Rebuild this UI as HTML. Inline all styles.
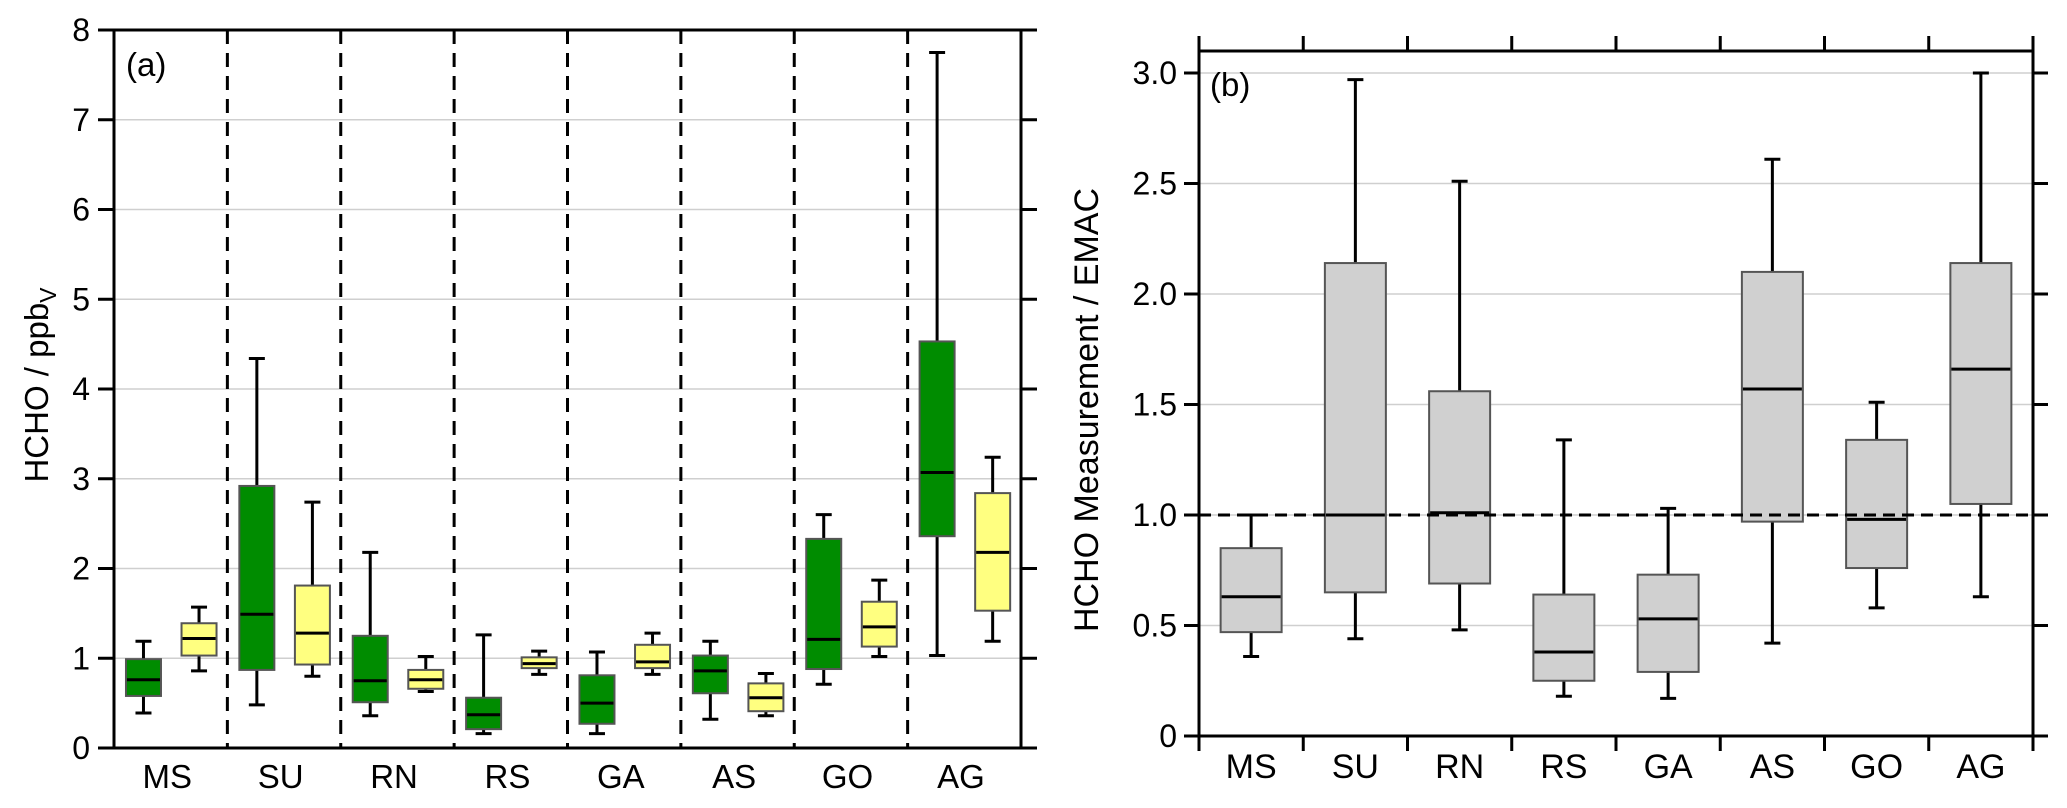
<!DOCTYPE html>
<html><head><meta charset="utf-8"><style>
html,body{margin:0;padding:0;background:#fff}
svg{display:block;font-family:"Liberation Sans",Arial,sans-serif}
</style></head><body>
<svg id="chart" width="2067" height="808" viewBox="0 0 2067 808" xmlns="http://www.w3.org/2000/svg">
<g id="pa"></g>
<g id="pb"></g>
</svg>
<script>
const categories = ["MS","SU","RN","RS","GA","AS","GO","AG"];
// panel a: [low whisker, q1, median, q3, high whisker]
const greenLow = [0.39,0.48,0.36,0.16,0.16,0.32,0.71,1.03];
const greenQ1  = [0.58,0.87,0.51,0.21,0.27,0.61,0.88,2.36];
const greenMed = [0.76,1.49,0.75,0.37,0.50,0.86,1.21,3.07];
const greenQ3  = [0.99,2.92,1.25,0.56,0.81,1.03,2.33,4.53];
const greenHigh= [1.19,4.34,2.18,1.26,1.07,1.19,2.60,7.75];
const yellowLow = [0.86,0.80,0.63,0.82,0.82,0.36,1.02,1.19];
const yellowQ1  = [1.03,0.93,0.66,0.89,0.89,0.41,1.13,1.53];
const yellowMed = [1.22,1.28,0.76,0.94,0.96,0.56,1.35,2.18];
const yellowQ3  = [1.39,1.81,0.87,1.01,1.15,0.72,1.63,2.84];
const yellowHigh= [1.57,2.74,1.02,1.08,1.28,0.83,1.87,3.24];
const aTicks = [0,1,2,3,4,5,6,7,8];
// panel b ratios
const ratioLow = [0.36,0.44,0.48,0.18,0.17,0.42,0.58,0.63];
const ratioQ1  = [0.47,0.65,0.69,0.25,0.29,0.97,0.76,1.05];
const ratioMed = [0.63,1.00,1.01,0.38,0.53,1.57,0.98,1.66];
const ratioQ3  = [0.85,2.14,1.56,0.64,0.73,2.10,1.34,2.14];
const ratioHigh= [1.00,2.97,2.51,1.34,1.03,2.61,1.51,3.00];
const bTicks = [0,0.5,1.0,1.5,2.0,2.5,3.0];
const bTickLabels = ["0","0.5","1.0","1.5","2.0","2.5","3.0"];
const refLine = 1.0;

const NS="http://www.w3.org/2000/svg";
function mk(parent,tag,attrs,text){const e=document.createElementNS(NS,tag);for(const k in attrs)e.setAttribute(k,attrs[k]);if(text!==undefined)e.textContent=text;parent.appendChild(e);return e;}

// Panel A geometry
const A={x0:114,x1:1021,y0:748,y1:30,max:8};
const ay=v=>A.y0-(v/A.max)*(A.y0-A.y1);
const aw=(A.x1-A.x0)/categories.length;
const ax=(i,f)=>A.x0+aw*(i+f);
const pa=document.getElementById('pa');
aTicks.forEach(t=>{
  if(t>0&&t<8){const g=mk(pa,'line',{x1:A.x0,x2:A.x1,y1:ay(t),y2:ay(t),stroke:'#cfcfcf','stroke-width':1.5});
  }
  const tk=mk(pa,'line',{x1:A.x0-16,x2:A.x0,y1:ay(t),y2:ay(t),stroke:'#000','stroke-width':3});
  
  const tr=mk(pa,'line',{x1:A.x1,x2:A.x1+16,y1:ay(t),y2:ay(t),stroke:'#000','stroke-width':3});
  
  const lb=mk(pa,'text',{x:A.x0-24,y:ay(t)+11,'text-anchor':'end','font-size':32},String(t));
  
});
for(let i=1;i<categories.length;i++){
  const d=mk(pa,'line',{x1:ax(i,0),x2:ax(i,0),y1:A.y1,y2:A.y0,stroke:'#000','stroke-width':3,'stroke-dasharray':'14,9'});
  
}
function box(parent,cx,w,lo,q1,md,q3,hi,yf,fill,name){
  const g=mk(parent,'g',{});
  
  mk(g,'line',{x1:cx,x2:cx,y1:yf(hi),y2:yf(q3),stroke:'#000','stroke-width':3});
  mk(g,'line',{x1:cx,x2:cx,y1:yf(q1),y2:yf(lo),stroke:'#000','stroke-width':3});
  mk(g,'line',{x1:cx-8,x2:cx+8,y1:yf(hi),y2:yf(hi),stroke:'#000','stroke-width':3});
  mk(g,'line',{x1:cx-8,x2:cx+8,y1:yf(lo),y2:yf(lo),stroke:'#000','stroke-width':3});
  mk(g,'rect',{x:cx-w/2,y:yf(q3),width:w,height:yf(q1)-yf(q3),fill:fill,stroke:'#555','stroke-width':2});
  mk(g,'line',{x1:cx-w/2+1,x2:cx+w/2-1,y1:yf(md),y2:yf(md),stroke:'#000','stroke-width':3});
}
categories.forEach((c,i)=>{
  box(pa,ax(i,0.26),35,greenLow[i],greenQ1[i],greenMed[i],greenQ3[i],greenHigh[i],ay,'#008c00','green-box-'+c.toLowerCase());
  box(pa,ax(i,0.75),35,yellowLow[i],yellowQ1[i],yellowMed[i],yellowQ3[i],yellowHigh[i],ay,'#ffff80','yellow-box-'+c.toLowerCase());
  const l=mk(pa,'text',{x:ax(i,0.47),y:788,'text-anchor':'middle','font-size':33},c);
  
});
mk(pa,'line',{x1:A.x0,x2:A.x0,y1:A.y1,y2:A.y0,stroke:'#000','stroke-width':3});
mk(pa,'line',{x1:A.x1,x2:A.x1,y1:A.y1,y2:A.y0,stroke:'#000','stroke-width':3});
mk(pa,'line',{x1:A.x0-16,x2:A.x1+16,y1:A.y1,y2:A.y1,stroke:'#000','stroke-width':3});
mk(pa,'line',{x1:A.x0-16,x2:A.x1+16,y1:A.y0,y2:A.y0,stroke:'#000','stroke-width':3});
const la=mk(pa,'text',{x:126,y:76,'font-size':33},'(a)');

const ta=mk(pa,'text',{transform:'translate(48,385) rotate(-90)','text-anchor':'middle','font-size':33});

ta.innerHTML='HCHO / ppb<tspan font-size="23" dy="8">V</tspan>';

// Panel B
const B={x0:1199,x1:2033,y0:736,y1:51};
const by=v=>B.y0-(v/3)*(736-73);
const bw=(B.x1-B.x0)/categories.length;
const bx=(i,f)=>B.x0+bw*(i+f);
const pb=document.getElementById('pb');
bTicks.forEach((t,k)=>{
  if(t>0){const g=mk(pb,'line',{x1:B.x0,x2:B.x1,y1:by(t),y2:by(t),stroke:'#cfcfcf','stroke-width':1.5});
  }
  const tk=mk(pb,'line',{x1:B.x0-15,x2:B.x0,y1:by(t),y2:by(t),stroke:'#000','stroke-width':3});
  
  const tr=mk(pb,'line',{x1:B.x1,x2:B.x1+15,y1:by(t),y2:by(t),stroke:'#000','stroke-width':3});
  
  const lb=mk(pb,'text',{x:B.x0-22,y:by(t)+11,'text-anchor':'end','font-size':32},bTickLabels[k]);
  
});
for(let i=0;i<=categories.length;i++){
  mk(pb,'line',{x1:bx(i,0),x2:bx(i,0),y1:B.y1-15,y2:B.y1,stroke:'#000','stroke-width':3});
  mk(pb,'line',{x1:bx(i,0),x2:bx(i,0),y1:B.y0,y2:B.y0+15,stroke:'#000','stroke-width':3});
}
categories.forEach((c,i)=>{
  box(pb,bx(i,0.5),61,ratioLow[i],ratioQ1[i],ratioMed[i],ratioQ3[i],ratioHigh[i],by,'#d0d0d0','ratio-box-'+c.toLowerCase());
  const l=mk(pb,'text',{x:bx(i,0.5),y:778,'text-anchor':'middle','font-size':34},c);
  
});
const rl=mk(pb,'line',{x1:B.x0,x2:B.x1,y1:by(refLine),y2:by(refLine),stroke:'#000','stroke-width':3,'stroke-dasharray':'12,7'});

mk(pb,'line',{x1:B.x0,x2:B.x0,y1:B.y1,y2:B.y0,stroke:'#000','stroke-width':3});
mk(pb,'line',{x1:B.x1,x2:B.x1,y1:B.y1,y2:B.y0,stroke:'#000','stroke-width':3});
mk(pb,'line',{x1:B.x0,x2:B.x1,y1:B.y1,y2:B.y1,stroke:'#000','stroke-width':3});
mk(pb,'line',{x1:B.x0,x2:B.x1,y1:B.y0,y2:B.y0,stroke:'#000','stroke-width':3});
const lbb=mk(pb,'text',{x:1210,y:96,'font-size':33},'(b)');

const tb=mk(pb,'text',{transform:'translate(1098,410) rotate(-90)','text-anchor':'middle','font-size':34},'HCHO Measurement / EMAC');

</script>
</body></html>
